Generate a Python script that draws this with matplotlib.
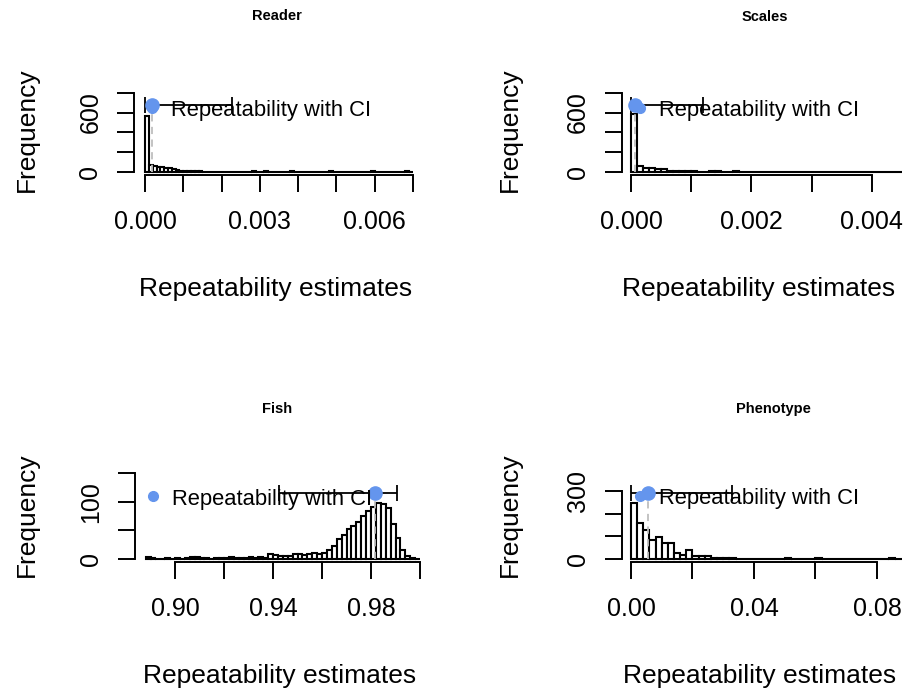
import numpy as np
import matplotlib
matplotlib.use("Agg")
import matplotlib.pyplot as plt
import matplotlib.transforms as mtransforms

# histogram counts (bootstrap repeatabilities)
reader_start, reader_width = 0.0, 0.0001
reader_counts = [570, 70, 62, 55, 48, 42, 38, 30, 18, 14,
                 12, 10, 8, 7, 6, 5, 5, 4, 4, 3,
                 3, 3, 2, 4, 2, 2, 3, 5, 6, 4,
                 5, 6, 5, 4, 3, 2, 2, 1, 6, 2,
                 1, 1, 1, 5, 1, 2, 1, 1, 6, 2,
                 1, 1, 0, 1, 1, 1, 0, 1, 1, 6,
                 5, 1, 0, 1, 1, 0, 1, 0, 6, 5]

scales_start, scales_width = 0.0, 0.0001
scales_counts = [585, 60, 38, 36, 34, 30, 14, 10, 8, 7,
                 6, 5, 4, 6, 6, 5, 3, 6, 5, 3,
                 2, 4, 3, 2, 2, 1, 3, 2, 1, 4,
                 1, 1, 1, 0, 1, 1, 1, 1, 0, 3,
                 1, 0, 1, 4, 3]

fish_start, fish_width = 0.888, 0.002
fish_counts = [4, 1, 0, 0, 1, 0, 1, 0, 1, 3,
               3, 2, 1, 0, 1, 1, 2, 3, 1, 2,
               2, 3, 2, 3, 2, 9, 7, 6, 5, 6,
               8, 9, 7, 9, 11, 8, 10, 16, 23, 35,
               42, 53, 57, 64, 76, 84, 91, 98, 96, 90,
               62, 37, 15, 5, 2, 0]

pheno_start, pheno_width = 0.0, 0.002
pheno_counts = [247, 159, 129, 85, 96, 71, 71, 25, 18, 38,
                15, 12, 12, 6, 4, 3, 3, 2, 2, 2,
                1, 2, 1, 1, 2, 3, 1, 0, 1, 1,
                3, 2, 2, 1, 0, 1, 0, 0, 0, 0,
                0, 0, 3, 2]

# point estimate, CI and the height the point was drawn at
reader_est = [0.00018, 0.0, 0.00226, 680]
scales_est = [0.00007, 0.0, 0.0012, 680]
fish_est = [0.9816, 0.9425, 0.9907, 115]
pheno_est = [0.0055, 0.0, 0.033, 292]

reader_xticks = [0.000, 0.001, 0.002, 0.003, 0.004, 0.005, 0.006, 0.007]
reader_xlabels = ["0.000", "", "", "0.003", "", "", "0.006", ""]
scales_xticks = [0.000, 0.001, 0.002, 0.003, 0.004]
scales_xlabels = ["0.000", "", "0.002", "", "0.004"]
fish_xticks = [0.90, 0.92, 0.94, 0.96, 0.98, 1.00]
fish_xlabels = ["0.90", "", "0.94", "", "0.98", ""]
pheno_xticks = [0.00, 0.02, 0.04, 0.06, 0.08]
pheno_xlabels = ["0.00", "", "0.04", "", "0.08"]

reader_yticks = [0, 200, 400, 600, 800]
reader_ylabels = ["0", "", "", "600", ""]
fish_yticks = [0, 50, 100, 150]
fish_ylabels = ["0", "", "100", ""]
pheno_yticks = [0, 100, 200, 300]
pheno_ylabels = ["0", "", "", "300"]

W, H = 904, 693
plt.rcParams['font.family'] = ['Liberation Sans', 'DejaVu Sans']
fig = plt.figure(figsize=(W / 100, H / 100), dpi=100)

BLUE = '#6495ED'


def px_axes(left, top, right, bottom):
    return fig.add_axes([left / W, 1 - bottom / H, (right - left) / W, (bottom - top) / H])


def panel(box, title, title_xy, start, width, counts, est, xticks, xlabels,
          yticks, ylabels, xlim, ylim, ylab_x):
    ax = px_axes(*box)
    edges = start + width * np.arange(len(counts))
    ax.bar(edges, counts, width=width, align='edge', color='white',
           edgecolor='black', linewidth=1.5, zorder=2)
    x, lo, hi, y = est
    ax.plot([x, x], [0, y], color='#BEBEBE', ls=(0, (4, 3)), lw=1.3, zorder=3)
    ax.errorbar(x, y, xerr=[[x - lo], [hi - x]], fmt='none', ecolor='black',
                elinewidth=1.3, capsize=5.5, capthick=1.3, zorder=4)
    ax.plot(x, y, 'o', color=BLUE, ms=9.5, zorder=5)

    # legend sits at the point's height, near the left edge
    trans = mtransforms.blended_transform_factory(ax.transAxes, ax.transData)
    dot = trans + mtransforms.ScaledTranslation(0.18, -0.03, fig.dpi_scale_trans)
    txt = trans + mtransforms.ScaledTranslation(0.37, -0.06, fig.dpi_scale_trans)
    ax.plot(0, y, 'o', color=BLUE, ms=7, transform=dot, clip_on=False, zorder=5)
    ax.text(0, y, "Repeatability with CI", transform=txt, fontsize=15.8,
            va='center', ha='left', zorder=6)

    ax.set_xlim(*xlim)
    ax.set_ylim(*ylim)
    ax.set_xticks(xticks)
    ax.set_xticklabels(xlabels)
    ax.set_yticks(yticks)
    ax.set_yticklabels(ylabels, rotation=90, va='center')
    for s in ['top', 'right']:
        ax.spines[s].set_visible(False)
    for s in ['left', 'bottom']:
        ax.spines[s].set_linewidth(1.4)
    ax.spines['bottom'].set_bounds(xticks[0], xticks[-1])
    ax.spines['left'].set_bounds(yticks[0], yticks[-1])
    ax.tick_params(axis='both', direction='out', length=12, width=1.4, labelsize=18)
    ax.tick_params(axis='x', pad=13)
    ax.tick_params(axis='y', pad=11)
    ax.patch.set_alpha(0)

    fig.text(title_xy[0] / W, 1 - title_xy[1] / H, title, fontsize=10.5,
             fontweight='bold', ha='center', va='center')
    cx = (box[0] + box[2]) / 2 - 3
    base = box[3] + 121
    fig.text(cx / W, 1 - base / H, "Repeatability estimates", fontsize=19,
             ha='center', va='baseline')
    cy = (box[1] + box[3]) / 2
    fig.text(ylab_x / W, 1 - cy / H, "Frequency", fontsize=19, rotation=90,
             ha='center', va='center')
    return ax


panel((134.3, 84, 423.7, 175), "Reader", (277, 16), reader_start, reader_width,
      reader_counts, reader_est, reader_xticks, reader_xlabels,
      reader_yticks, reader_ylabels, (-0.00028, 0.00728), (-30, 888), 27)

panel((622, 84, 902, 175), "Scales", (765, 17), scales_start, scales_width,
      scales_counts, scales_est, scales_xticks, scales_xlabels,
      reader_yticks, reader_ylabels, (-0.00015, 0.00450), (-30, 888), 510)

panel((135, 468, 431, 562), "Fish", (277, 409), fish_start, fish_width,
      fish_counts, fish_est, fish_xticks, fish_xlabels,
      fish_yticks, fish_ylabels, (0.88367, 1.00449), (-5.25, 159.3), 27)

panel((622, 468, 904, 562), "Phenotype", (773, 409), pheno_start, pheno_width,
      pheno_counts, pheno_est, pheno_xticks, pheno_xlabels,
      pheno_yticks, pheno_ylabels, (-0.00293, 0.0888), (-13.2, 401.4), 510)

fig.savefig("out.png", dpi=100)
